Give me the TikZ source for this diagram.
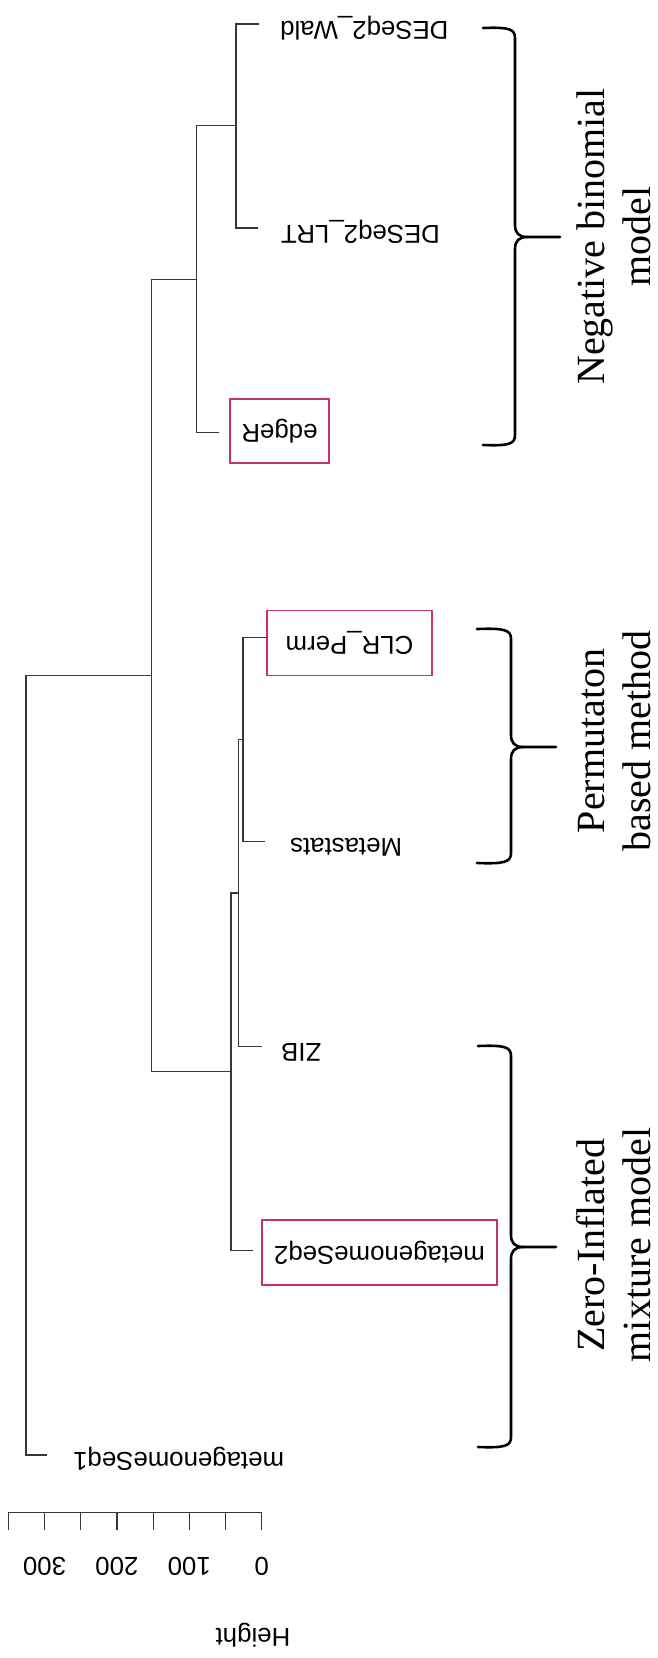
\documentclass[tikz,border=0pt]{standalone}
\usepackage{fontspec}
\setmainfont{Liberation Sans}
\newfontfamily\bracefont{Liberation Serif}
\definecolor{treecol}{RGB}{55,55,55}
\definecolor{boxcol}{RGB}{200,50,110}
\newcommand\curlybrace[6]{%
  \draw[brace] (#1,#4) .. controls ({#2-6},{#4-1}) and (#2,{#4+1}) .. (#2,{#4+10})
     -- (#2,{#5-12}) .. controls (#2,{#5-4}) and ({#2+4},#5) .. ({#2+12},#5) -- (#3,#5);
  \draw[brace] (#1,#6) .. controls ({#2-6},{#6+1}) and (#2,{#6-1}) .. (#2,{#6-10})
     -- (#2,{#5+12}) .. controls (#2,{#5+4}) and ({#2+4},#5) .. ({#2+12},#5);
}
\begin{document}
\begin{tikzpicture}[x=1pt,y=-1pt,
  tree/.style={draw=treecol, line width=1.2pt},
  leaflabel/.style={rotate=180, anchor=mid east, inner sep=0pt, font=\fontsize{25.8}{30}\selectfont},
  boxlabel/.style={rotate=180, draw=boxcol, line width=1.3pt, inner sep=0pt, font=\fontsize{25.8}{30}\selectfont},
  brace/.style={draw=black, line width=2.6pt, line cap=round, line join=round},
  groupname/.style={rotate=90, anchor=south, align=center, inner sep=0pt, font=\bracefont\fontsize{40}{46}\selectfont},
  ticklabel/.style={rotate=180, inner sep=0pt, font=\fontsize{25.8}{30}\selectfont},
  axisline/.style={draw=treecol, line width=1.2pt},
]
\useasboundingbox[fill=white] (0,0) rectangle (657,1658);

% internal nodes of the dendrogram
\coordinate (A) at (236,125.8);
\coordinate (B) at (196.6,279.2);
\coordinate (C) at (243,739.5);
\coordinate (D) at (238.5,893);
\coordinate (E) at (231,1071.7);
\coordinate (F) at (151.6,675.5);
\coordinate (R) at (26,1065);

% leaf ends
\coordinate (lWald) at (259,24);
\coordinate (lLRT) at (258,228);
\coordinate (lEdge) at (218.5,432.7);
\coordinate (lCLR) at (267,637.7);
\coordinate (lMeta) at (265,841.5);
\coordinate (lZIB) at (262,1046.5);
\coordinate (lMG2) at (253,1250.5);
\coordinate (lMG1) at (47,1455);

% labels
\node[leaflabel] (tWald) at (280,24) {DESeq2\_Wald};
\node[leaflabel] (tLRT) at (281,228) {DESeq2\_LRT};
\node[boxlabel, minimum width=99pt, minimum height=64pt] (tEdge) at (279.5,431) {edgeR};
\node[boxlabel, minimum width=165pt, minimum height=65pt] (tCLR) at (349.5,643) {CLR\_Perm};
\node[leaflabel] (tMeta) at (290,841.5) {Metastats};
\node[leaflabel] (tZIB) at (281,1046.5) {ZIB};
\node[boxlabel, minimum width=235pt, minimum height=65pt] (tMG2) at (379.5,1252.5) {metagenomeSeq2};
\node[leaflabel] (tMG1) at (73,1455) {metagenomeSeq1};

% dendrogram connectors
\draw[tree] (A) |- (lWald);
\draw[tree] (A) |- (lLRT);
\draw[tree] (B) |- (A);
\draw[tree] (B) |- (lEdge);
\draw[tree] (C) |- (lCLR);
\draw[tree] (C) |- (lMeta);
\draw[tree] (D) |- (C);
\draw[tree] (D) |- (lZIB);
\draw[tree] (E) |- (D);
\draw[tree] (E) |- (lMG2);
\draw[tree] (F) |- (B);
\draw[tree] (F) |- (E);
\draw[tree] (R) |- (F);
\draw[tree] (R) |- (lMG1);

% height axis
\coordinate (ax0) at (261.7,1512.7);
\coordinate (ax350) at (8.3,1512.7);
\draw[axisline] (ax350) -- (ax0);
\foreach \k in {0,...,7} {
  \draw[axisline] ({261.7-\k*36.2},1512.7) -- ({261.7-\k*36.2},1530);
}
\node[ticklabel] (t0) at (261.7,1566) {0};
\node[ticklabel] (t100) at (189.3,1566) {100};
\node[ticklabel] (t200) at (116.9,1566) {200};
\node[ticklabel] (t300) at (44.5,1566) {300};
\node[ticklabel] (tHeight) at (253,1635) {Height};

% braces
\curlybrace{483}{515}{560}{28}{237}{445}
\curlybrace{477}{511}{556}{629}{747}{863}
\curlybrace{478}{511}{556}{1046}{1247}{1447}

% group names
\node[groupname] (gNB) at (651,236.5) {Negative binomial\\model};
\node[groupname] (gPerm) at (651,741) {Permutaton\\based method};
\node[groupname] (gZI) at (651,1245) {Zero-Inflated\\mixture model};
\end{tikzpicture}
\end{document}
